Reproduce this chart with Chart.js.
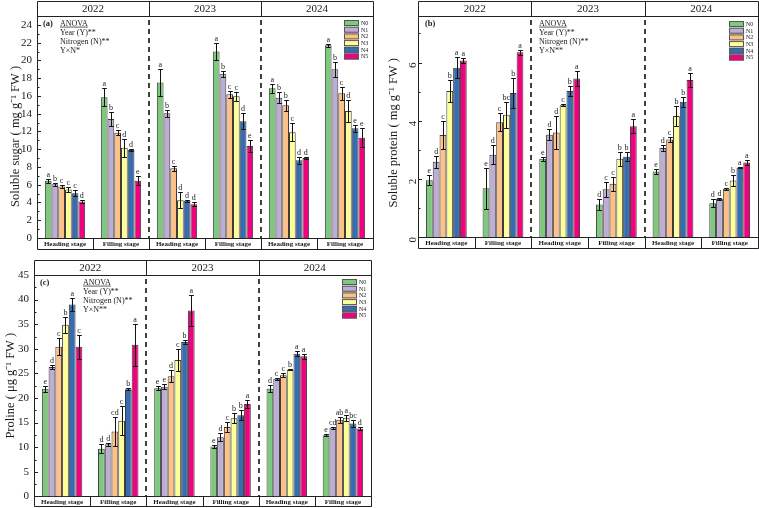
<!DOCTYPE html>
<html>
<head>
<meta charset="utf-8">
<script src="https://cdn.jsdelivr.net/npm/chart.js@4.4.1/dist/chart.umd.min.js"></script>
<style>
  html, body { margin: 0; padding: 0; background: #fff; }
  #wrap { position: relative; width: 759px; height: 508px; overflow: hidden; }
  canvas { position: absolute; }
</style>
</head>
<body>
<div id="wrap">
  <canvas id="sugarChart" width="380" height="256" style="left:0;top:0"></canvas>
  <canvas id="proteinChart" width="379" height="256" style="left:380px;top:0"></canvas>
  <canvas id="prolineChart" width="380" height="252" style="left:0;top:256px"></canvas>
</div>
<script>
// categories
const stages = ['Heading stage', 'Filling stage', 'Heading stage', 'Filling stage', 'Heading stage', 'Filling stage'];
const years = ['2022', '2023', '2024'];
const treatments = ['N0', 'N1', 'N2', 'N3', 'N4', 'N5'];
const colors = ['#7fc97f', '#beaed4', '#fdc086', '#ffff99', '#386cb0', '#f0027f'];

// (a) soluble sugar, one row per treatment, one column per stage/year
const sugarMean = [
  [6.45, 15.85, 17.5, 21.0, 16.85, 21.7],
  [6.05, 13.4, 14.05, 18.5, 15.8, 19.0],
  [5.8, 11.85, 7.85, 16.2, 14.95, 16.3],
  [5.45, 10.15, 4.25, 15.95, 11.9, 14.3],
  [5.05, 9.9, 4.2, 13.15, 8.75, 12.35],
  [4.1, 6.45, 3.8, 10.35, 9.0, 11.3]
];
const sugarErr = [
  [0.2, 1.0, 1.5, 1.0, 0.5, 0.2],
  [0.15, 0.75, 0.4, 0.35, 0.6, 0.85],
  [0.15, 0.3, 0.3, 0.4, 0.6, 0.75],
  [0.25, 1.0, 0.9, 0.5, 1.0, 1.2],
  [0.3, 0.1, 0.1, 0.9, 0.4, 0.4],
  [0.15, 0.5, 0.2, 0.7, 0.15, 1.1]
];
const sugarLetters = [
  ['a', 'a', 'a', 'a', 'a', 'a'],
  ['b', 'b', 'b', 'b', 'b', 'b'],
  ['c', 'c', 'c', 'c', 'b', 'c'],
  ['c', 'd', 'd', 'c', 'c', 'd'],
  ['c', 'd', 'd', 'd', 'd', 'e'],
  ['d', 'e', 'd', 'e', 'd', 'e']
];

// (b) soluble protein
const proteinMean = [
  [1.95, 1.68, 2.69, 1.12, 2.25, 1.16],
  [2.59, 2.83, 3.52, 1.64, 3.06, 1.31],
  [3.51, 3.95, 3.59, 1.83, 3.35, 1.66],
  [5.02, 4.2, 4.53, 2.69, 4.16, 1.94],
  [5.82, 4.95, 5.02, 2.76, 4.65, 2.39],
  [6.07, 6.35, 5.45, 3.81, 5.4, 2.56]
];
const proteinErr = [
  [0.17, 0.7, 0.06, 0.2, 0.1, 0.14],
  [0.2, 0.33, 0.18, 0.25, 0.1, 0.03],
  [0.48, 0.3, 0.58, 0.25, 0.1, 0.04],
  [0.37, 0.45, 0.04, 0.25, 0.33, 0.2],
  [0.36, 0.53, 0.18, 0.16, 0.17, 0.03],
  [0.07, 0.08, 0.27, 0.25, 0.25, 0.08]
];
const proteinLetters = [
  ['e', 'e', 'e', 'd', 'e', 'd'],
  ['d', 'd', 'd', 'c', 'd', 'd'],
  ['c', 'c', 'd', 'c', 'c', 'c'],
  ['b', 'bc', 'c', 'b', 'b', 'b'],
  ['a', 'b', 'b', 'b', 'b', 'a'],
  ['a', 'a', 'a', 'a', 'a', 'a']
];

// (c) proline
const prolineMean = [
  [21.9, 9.7, 22.0, 10.15, 21.9, 12.45],
  [26.3, 10.6, 22.3, 12.0, 23.9, 14.0],
  [30.4, 13.2, 24.4, 14.1, 24.6, 15.6],
  [34.9, 15.4, 27.7, 15.9, 25.8, 16.0],
  [39.0, 21.8, 31.4, 16.5, 29.0, 14.8],
  [30.4, 30.8, 37.8, 18.8, 28.5, 13.8]
];
const prolineErr = [
  [0.6, 0.9, 0.4, 0.3, 0.7, 0.25],
  [0.4, 0.3, 0.5, 0.8, 0.2, 0.2],
  [1.7, 3.0, 1.2, 1.1, 0.4, 0.6],
  [1.6, 2.9, 2.2, 1.0, 0.1, 0.6],
  [1.4, 0.25, 0.4, 1.0, 0.5, 0.7],
  [2.4, 4.3, 3.2, 0.8, 0.5, 0.4]
];
const prolineLetters = [
  ['e', 'd', 'e', 'e', 'd', 'e'],
  ['d', 'd', 'e', 'd', 'c', 'cd'],
  ['c', 'cd', 'd', 'c', 'c', 'ab'],
  ['b', 'c', 'c', 'b', 'b', 'a'],
  ['a', 'b', 'b', 'b', 'a', 'bc'],
  ['c', 'a', 'a', 'a', 'a', 'd']
];

const SERIF = "'Liberation Serif', 'Times New Roman', serif";
const INK = '#1a1a1a';

// error bars, letters and all the frame decorations
const panelDecor = {
  id: 'panelDecor',
  afterDatasetsDraw(chart) {
    const ctx = chart.ctx, y = chart.scales.y;
    ctx.save();
    ctx.strokeStyle = '#111';
    ctx.lineWidth = 1;
    ctx.fillStyle = '#222';
    ctx.font = '8px ' + SERIF;
    ctx.textAlign = 'center';
    ctx.textBaseline = 'bottom';
    chart.data.datasets.forEach((ds, di) => {
      chart.getDatasetMeta(di).data.forEach((bar, i) => {
        const v = ds.data[i], e = ds.errors[i];
        const hi = Math.round(y.getPixelForValue(v + e)) + 0.5;
        const lo = Math.round(y.getPixelForValue(v - e)) + 0.5;
        const bx = Math.round(bar.x) + 0.5;
        const cap = bar.width * 0.35;
        ctx.beginPath();
        ctx.moveTo(bx, hi); ctx.lineTo(bx, lo);
        ctx.moveTo(bx - cap, hi); ctx.lineTo(bx + cap, hi);
        ctx.moveTo(bx - cap, lo); ctx.lineTo(bx + cap, lo);
        ctx.stroke();
        ctx.fillText(ds.letters[i], bar.x, hi - 1);
      });
    });
    ctx.restore();
  },
  afterDraw(chart, args, opts) {
    const ctx = chart.ctx;
    const { left, right, top, bottom } = chart.chartArea;
    const x = chart.scales.x, y = chart.scales.y;
    const centers = stages.map((s, i) => x.getPixelForValue(i));
    const bounds = [left];
    for (let i = 0; i < centers.length - 1; i++) bounds.push((centers[i] + centers[i + 1]) / 2);
    bounds.push(right);
    const px = v => Math.round(v) + 0.5;
    const hTop = top - opts.headerH, rowBot = bottom + opts.rowH;

    ctx.save();
    ctx.strokeStyle = '#222';
    ctx.lineWidth = 1;
    // header box with years
    ctx.beginPath();
    ctx.moveTo(px(left), px(hTop)); ctx.lineTo(px(right), px(hTop));
    ctx.moveTo(px(left), px(top)); ctx.lineTo(px(right), px(top));
    ctx.moveTo(px(left), px(hTop)); ctx.lineTo(px(left), px(top));
    ctx.moveTo(px(right), px(hTop)); ctx.lineTo(px(right), px(rowBot));
    [2, 4].forEach(k => { ctx.moveTo(px(bounds[k]), px(hTop)); ctx.lineTo(px(bounds[k]), px(top)); });
    // stage row
    ctx.moveTo(px(left), px(rowBot)); ctx.lineTo(px(right), px(rowBot));
    bounds.forEach(b => { ctx.moveTo(px(b), px(bottom)); ctx.lineTo(px(b), px(rowBot)); });
    ctx.stroke();

    ctx.fillStyle = INK;
    ctx.font = '11px ' + SERIF;
    ctx.textAlign = 'center';
    ctx.textBaseline = 'middle';
    years.forEach((yr, k) => ctx.fillText(yr, (bounds[2 * k] + bounds[2 * k + 2]) / 2, (hTop + top) / 2 + 0.5));

    // stage labels under each group, from the category scale
    ctx.font = 'bold 7px ' + SERIF;
    centers.forEach((cx, i) => ctx.fillText(x.getLabelForValue(i), cx, (bottom + rowBot) / 2 + 0.5));

    // dashed year separators
    ctx.setLineDash([5, 4]);
    ctx.lineWidth = 1.6;
    ctx.strokeStyle = '#111';
    [2, 4].forEach(k => {
      ctx.beginPath();
      ctx.moveTo(Math.round(bounds[k]), top + 4); ctx.lineTo(Math.round(bounds[k]), bottom);
      ctx.stroke();
    });
    ctx.setLineDash([]);

    // inward tick marks
    ctx.lineWidth = 1;
    ctx.strokeStyle = '#222';
    ctx.beginPath();
    y.ticks.forEach(t => {
      const ty = px(y.getPixelForValue(t.value));
      const len = t.label === '' ? 2.5 : 4;
      ctx.moveTo(left, ty); ctx.lineTo(left + len, ty);
    });
    ctx.stroke();

    // legend
    const lx = right - opts.legendDx, ly = top + opts.legendDy, rh = 6.7;
    ctx.font = '6px ' + SERIF;
    ctx.textAlign = 'left';
    chart.data.datasets.forEach((ds, k) => {
      const ry = ly + k * rh;
      ctx.fillStyle = ds.backgroundColor;
      ctx.fillRect(lx, ry, 15, rh - 0.7);
      ctx.strokeStyle = '#555';
      ctx.strokeRect(lx + 0.5, ry + 0.5, 14, rh - 1.7);
      ctx.fillStyle = INK;
      ctx.fillText(ds.label, lx + 17, ry + rh / 2);
    });

    // panel tag and ANOVA block
    ctx.font = 'bold 8.5px ' + SERIF;
    ctx.fillText(opts.tag, left + opts.tagDx, top + 7.5);
    ctx.font = '8px ' + SERIF;
    opts.anova.forEach((line, k) => {
      const ty = top + 7.5 + k * 9;
      ctx.fillText(line, left + opts.anovaDx, ty);
      if (k === 0) {
        const w = ctx.measureText(line).width;
        ctx.fillRect(left + opts.anovaDx, ty + 3.2, w, 0.7);
      }
    });
    ctx.restore();
  }
};

function makePanel(id, cfg) {
  const datasets = treatments.map((t, k) => ({
    label: t,
    data: cfg.mean[k],
    errors: cfg.err[k],
    letters: cfg.letters[k],
    backgroundColor: colors[k],
    borderColor: '#3c3c3c',
    borderWidth: 1,
    barPercentage: 1,
    categoryPercentage: 0.72
  }));
  return new Chart(document.getElementById(id), {
    type: 'bar',
    data: { labels: stages, datasets },
    plugins: [panelDecor],
    options: {
      responsive: false,
      animation: false,
      events: [],
      layout: { padding: cfg.padding },
      plugins: {
        legend: { display: false },
        tooltip: { enabled: false },
        panelDecor: {
          headerH: 15, rowH: cfg.rowH,
          legendDx: 29, legendDy: cfg.legendDy,
          tag: cfg.tag, tagDx: cfg.tagDx,
          anova: cfg.anova, anovaDx: cfg.anovaDx
        }
      },
      scales: {
        x: {
          afterFit: s => { s.height = cfg.rowH; },
          grid: { display: false, drawTicks: false },
          border: { display: true, color: '#222' },
          ticks: { display: false }
        },
        y: {
          min: 0, max: cfg.max,
          afterFit: s => { s.width = cfg.axisW; },
          grid: { display: false, drawTicks: false },
          border: { display: true, color: '#222' },
          ticks: {
            stepSize: cfg.step, includeBounds: false, autoSkip: false, padding: 5,
            minRotation: cfg.labelRot, maxRotation: cfg.labelRot,
            color: INK, font: { family: SERIF, size: 11 },
            callback: v => (Math.abs(v / cfg.major - Math.round(v / cfg.major)) < 1e-6 ? v : '')
          },
          title: {
            display: true, text: cfg.title, color: INK,
            font: { family: SERIF, size: 12.5 },
            padding: { top: cfg.titlePad, bottom: 0 }
          }
        }
      }
    }
  });
}

// trailing no-break spaces nudge the rotated titles down to where the reference has them
makePanel('sugarChart', {
  mean: sugarMean, err: sugarErr, letters: sugarLetters,
  max: 25, step: 1, major: 2, labelRot: 0,
  axisW: 37, padding: { left: 0, right: 7, top: 16, bottom: 7 }, rowH: 11,
  title: 'Soluble sugar ( mg g\u207B\u00B9 FW )' + '\u00A0'.repeat(6), titlePad: 8,
  legendDy: 4, tag: '(a)', tagDx: 6, anovaDx: 23,
  anova: ['ANOVA', 'Year (Y)**', 'Nitrogen (N)**', 'Y\u00D7N*']
});

makePanel('proteinChart', {
  mean: proteinMean, err: proteinErr, letters: proteinLetters,
  max: 7.6, step: 1, major: 2, labelRot: 90,
  axisW: 38, padding: { left: 0, right: 1, top: 16, bottom: 8 }, rowH: 11,
  title: 'Soluble protein ( mg g\u207B\u00B9 FW )' + '\u00A0'.repeat(4), titlePad: 6,
  legendDy: 5, tag: '(b)', tagDx: 7, anovaDx: 121,
  anova: ['ANOVA', 'Year (Y)**', 'Nitrogen (N)**', 'Y\u00D7N**']
});

makePanel('prolineChart', {
  mean: prolineMean, err: prolineErr, letters: prolineLetters,
  max: 45, step: 2.5, major: 5, labelRot: 0,
  axisW: 34, padding: { left: 0, right: 9, top: 19, bottom: 1 }, rowH: 10,
  title: 'Proline ( \u03BCg g\u207B\u00B9 FW )', titlePad: 3,
  legendDy: 4, tag: '(c)', tagDx: 6, anovaDx: 49,
  anova: ['ANOVA', 'Year (Y)**', 'Nitrogen (N)**', 'Y\u00D7N**']
});
</script>
</body>
</html>
